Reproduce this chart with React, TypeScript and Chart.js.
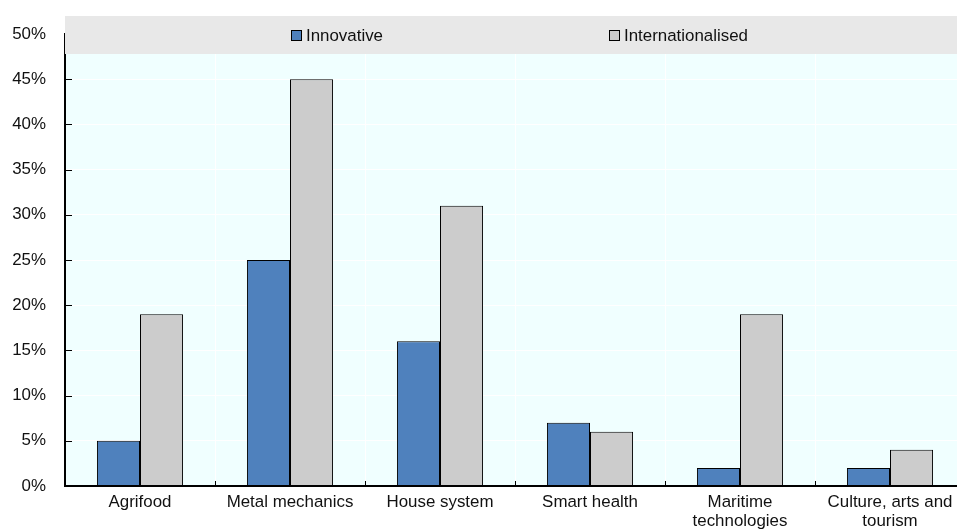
import React, { useEffect, useRef } from "react";
import { Chart, registerables } from "chart.js";

Chart.register(...registerables);

// Share of firms by cluster (%)
const categories: (string | string[])[] = [
  "Agrifood",
  "Metal mechanics",
  "House system",
  "Smart health",
  ["Maritime", "technologies"],
  ["Culture, arts and", "tourism"],
];
const innovative = [5, 25, 16, 7, 2, 2];
const internationalised = [19, 45, 31, 6, 19, 4];
const seriesLabels = ["Innovative", "Internationalised"];
const yMax = 50;
const yStep = 5;

const FONT = '"Liberation Sans", Arial, Helvetica, sans-serif';
const FONT_SIZE = 16.9;
const TEXT = "#111111";
const BLUE = "#4f81bd";
const GREY = "#cccccc";
const PLOT_BG = "#f0ffff";
const BAND_BG = "#e8e8e8";

// Horizontal placement of the legend items inside the top band, as a fraction of plot width
const legendSlots = [0.251, 0.604];

const decorPlugin = {
  id: "decor",
  beforeDraw(chart: any) {
    const { ctx, chartArea: a } = chart;
    ctx.save();
    ctx.fillStyle = PLOT_BG;
    ctx.fillRect(a.left, a.top, a.right - a.left, a.bottom - a.top);
    ctx.restore();
  },
  beforeDatasetsDraw(chart: any) {
    const { ctx, chartArea: a } = chart;
    ctx.save();
    // legend band across the top of the plot
    ctx.fillStyle = BAND_BG;
    ctx.fillRect(a.left, 16, chart.width - a.left, 38);
    ctx.font = `${FONT_SIZE}px ${FONT}`;
    ctx.textBaseline = "middle";
    ctx.textAlign = "left";
    chart.data.datasets.forEach((ds: any, i: number) => {
      const x = Math.round(a.left + legendSlots[i] * (a.right - a.left));
      ctx.fillStyle = ds.backgroundColor;
      ctx.fillRect(x + 0.5, 30.5, 10, 10);
      ctx.strokeStyle = "#000";
      ctx.lineWidth = 1;
      ctx.strokeRect(x + 0.5, 30.5, 10, 10);
      ctx.fillStyle = TEXT;
      ctx.fillText(ds.label, x + 15, 36);
    });
    ctx.restore();
  },
  afterDatasetsDraw(chart: any) {
    const { ctx, chartArea: a, scales } = chart;
    const y = scales.y;
    const x = scales.x;
    ctx.save();
    ctx.strokeStyle = "#000";
    // inward tick marks on the value axis
    ctx.lineWidth = 1;
    for (let v = yStep; v < yMax; v += yStep) {
      const py = Math.round(y.getPixelForValue(v)) + 0.5;
      ctx.beginPath();
      ctx.moveTo(a.left, py);
      ctx.lineTo(a.left + 7, py);
      ctx.stroke();
    }
    // small upward ticks between categories
    for (let i = 1; i < categories.length; i++) {
      const px = Math.round((x.getPixelForTick(i - 1) + x.getPixelForTick(i)) / 2) + 0.5;
      ctx.beginPath();
      ctx.moveTo(px, a.bottom);
      ctx.lineTo(px, a.bottom - 5);
      ctx.stroke();
    }
    // value axis: thin where it runs behind the legend band, full weight below
    const bandBottom = 54;
    ctx.beginPath();
    ctx.moveTo(a.left - 0.5, a.top - 1);
    ctx.lineTo(a.left - 0.5, bandBottom);
    ctx.stroke();
    ctx.lineWidth = 2;
    ctx.beginPath();
    ctx.moveTo(a.left, bandBottom);
    ctx.lineTo(a.left, a.bottom + 1);
    ctx.moveTo(a.left - 1, a.bottom);
    ctx.lineTo(a.right, a.bottom);
    ctx.stroke();
    ctx.restore();
  },
};

export default function App() {
  const canvasRef = useRef<HTMLCanvasElement | null>(null);

  useEffect(() => {
    if (!canvasRef.current) return;
    const chart = new Chart(canvasRef.current, {
      type: "bar",
      data: {
        labels: categories,
        datasets: [
          {
            label: seriesLabels[0],
            data: innovative,
            backgroundColor: BLUE,
            borderColor: "#000",
            borderWidth: 1,
            borderSkipped: "bottom",
          },
          {
            label: seriesLabels[1],
            data: internationalised,
            backgroundColor: GREY,
            borderColor: "#000",
            borderWidth: 1,
            borderSkipped: "bottom",
          },
        ],
      },
      options: {
        animation: false,
        responsive: true,
        maintainAspectRatio: false,
        layout: { padding: { left: 0, top: 34, right: 5, bottom: 0 } },
        datasets: {
          bar: { categoryPercentage: 0.574, barPercentage: 1 },
        },
        plugins: {
          legend: { display: false },
          tooltip: { enabled: false },
        },
        scales: {
          x: {
            offset: true,
            grid: { display: true, offset: true, color: "#ffffff", lineWidth: 1, drawTicks: false },
            border: { display: false },
            ticks: {
              color: TEXT,
              padding: 7,
              maxRotation: 0,
              autoSkip: false,
              font: { family: FONT, size: FONT_SIZE, lineHeight: 1.13 },
            },
            afterFit(scale: any) {
              scale.height = 46;
            },
          },
          y: {
            min: 0,
            max: yMax,
            grid: { color: "#ffffff", lineWidth: 1, drawTicks: false },
            border: { display: false },
            ticks: {
              stepSize: yStep,
              color: TEXT,
              padding: 19,
              font: { family: FONT, size: FONT_SIZE },
              callback: (v: any) => `${v}%`,
            },
            afterFit(scale: any) {
              scale.width = 65;
            },
          },
        },
      },
      plugins: [decorPlugin],
    });
    return () => chart.destroy();
  }, []);

  return (
    <div
      style={{
        position: "absolute",
        left: 0,
        top: 0,
        width: 957,
        height: 532,
        overflow: "hidden",
        background: "#ffffff",
      }}
    >
      <div style={{ position: "relative", width: 970, height: 532 }}>
        <canvas ref={canvasRef} />
      </div>
    </div>
  );
}
